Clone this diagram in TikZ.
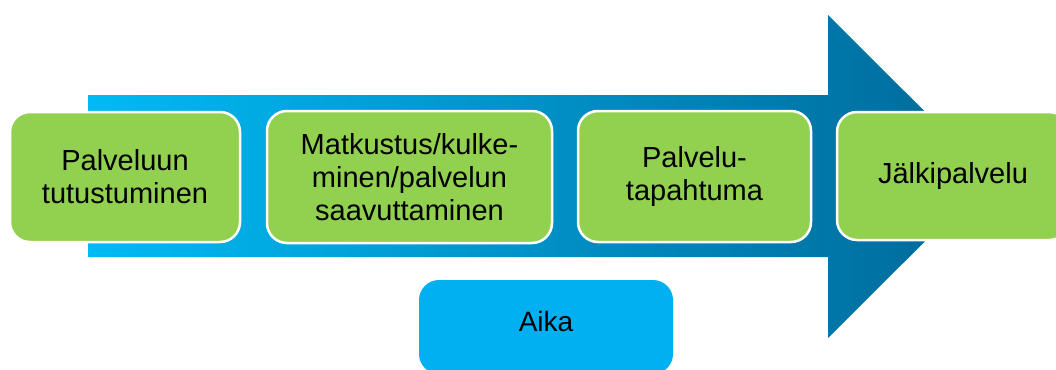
\documentclass[tikz,border=0pt]{standalone}
\usepackage{fontspec}
\setmainfont{Liberation Sans}
\definecolor{phasegreen}{RGB}{146,208,80}
\definecolor{timeblue}{RGB}{0,176,240}
\definecolor{arrowlight}{RGB}{0,186,244}
\definecolor{arrowdark}{RGB}{0,104,152}
\tikzset{
  phase/.style={rectangle, rounded corners=20pt, fill=phasegreen, draw=white,
    line width=2.5pt, align=center, inner sep=2pt,
    font=\fontsize{29}{33}\selectfont},
  timebox/.style={rectangle, rounded corners=20pt, fill=timeblue,
    inner sep=2pt, font=\fontsize{28}{33}\selectfont}
}
\begin{document}
\begin{tikzpicture}[x=1pt, y=-1pt]
  \useasboundingbox (0,0) rectangle (1056,369);
  \clip (0,0) rectangle (1056,369);

  % arrow
  \path[left color=arrowlight, right color=arrowdark]
    (88,95) -- (828,95) -- (828,15) -- (990,176.5) -- (828,338)
    -- (828,257) -- (88,257) -- cycle;

  % phases
  \node[phase, minimum width=230pt, minimum height=130pt] (tutustuminen)
    at (125,177) {Palveluun\\tutustuminen};
  \node[phase, minimum width=285pt, minimum height=132pt] (matkustus)
    at (409.5,177) {Matkustus/kulke-\\minen/palvelun\\saavuttaminen};
  \node[phase, minimum width=233pt, minimum height=131pt] (tapahtuma)
    at (694.5,176.5) {Palvelu-\\tapahtuma};
  \node[phase, minimum width=232pt, minimum height=128pt] (jalkipalvelu)
    at (953,176) {Jälkipalvelu};

  % time
  \node[timebox, minimum width=254pt, minimum height=94pt] (aika)
    at (546,327) {\raisebox{6pt}[\height][\depth]{Aika}};
\end{tikzpicture}
\end{document}
